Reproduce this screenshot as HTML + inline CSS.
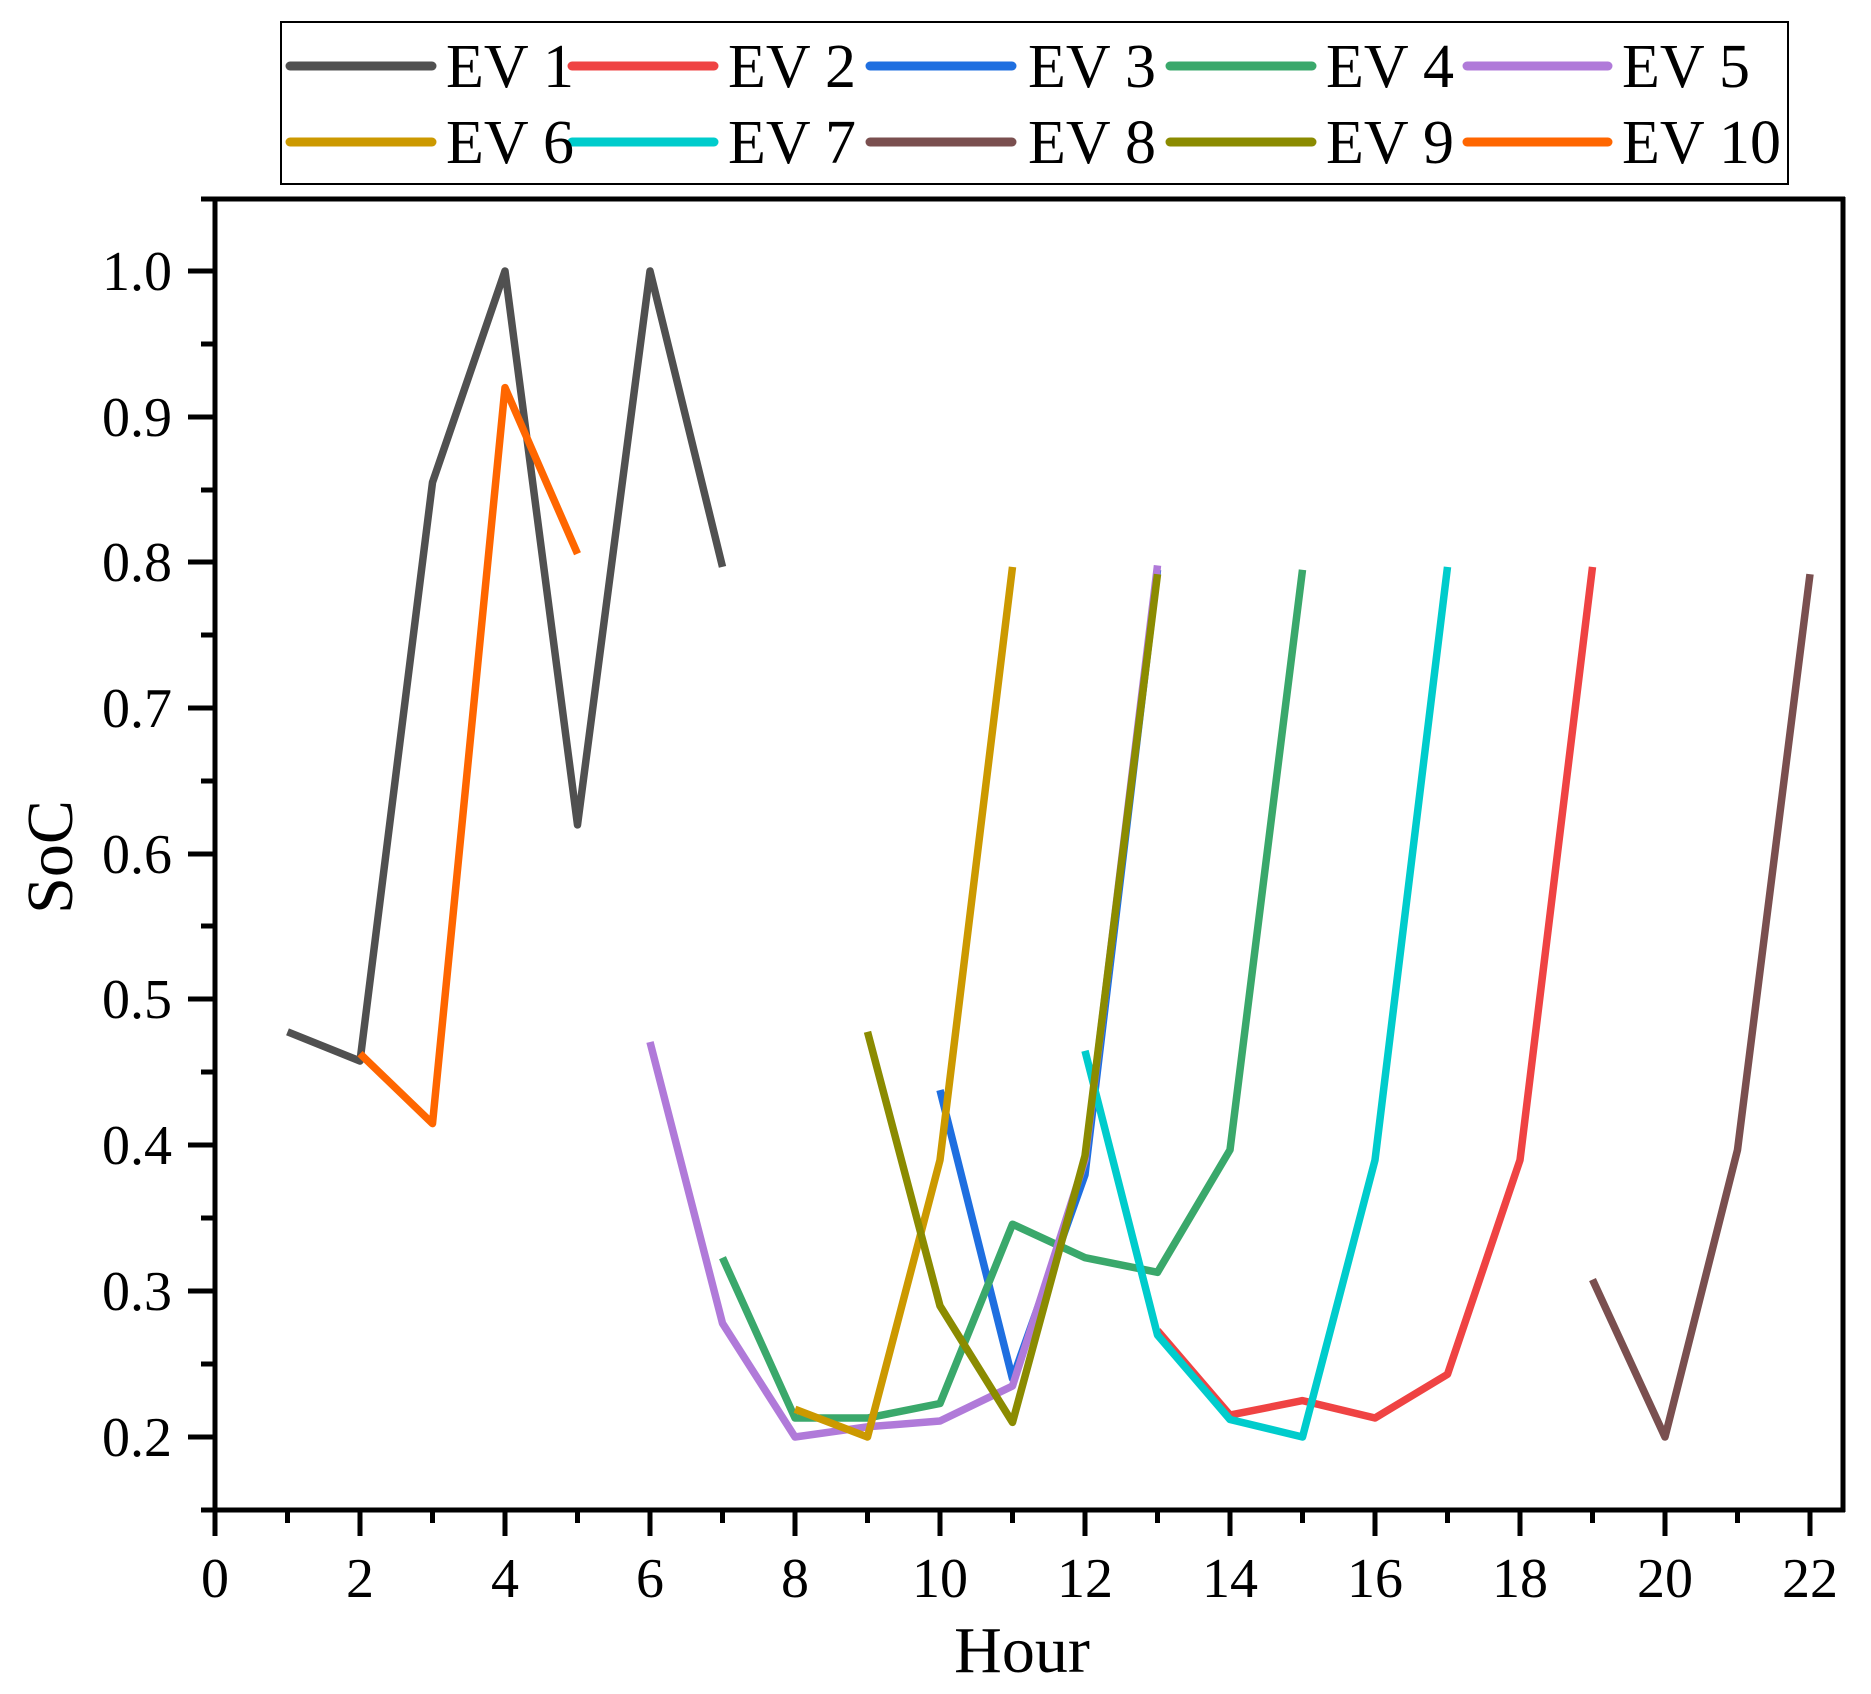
<!DOCTYPE html>
<html><head><meta charset="utf-8"><style>
html,body{margin:0;padding:0;background:#fff}
svg{display:block}
svg text{font-family:"Liberation Serif","Tinos","Times New Roman",Times,serif;fill:#000}
</style></head><body>
<svg width="1871" height="1694" viewBox="0 0 1871 1694" xmlns="http://www.w3.org/2000/svg">
<rect width="1871" height="1694" fill="#fff"/>
<g fill="none" stroke-width="7.5" stroke-linejoin="round" stroke-linecap="butt">
<polyline stroke="#505050" points="287.5,1031.8 360,1061 432.5,482.4 505,271 577.5,824.9 650,271 722.5,566.9"/>
<polyline stroke="#ef4343" points="1157.5,1330.6 1230,1415.1 1302.5,1400.6 1375,1418 1447.5,1374.3 1520,1160.1 1592.5,566.9"/>
<polyline stroke="#1f6fe0" points="940,1090.1 1012.5,1378.7 1085,1174.7 1157.5,569.8"/>
<polyline stroke="#3aa86b" points="722.5,1257.7 795,1418 867.5,1418 940,1403.5 1012.5,1224.2 1085,1257.7 1157.5,1272.3 1230,1149.9 1302.5,569.8"/>
<polyline stroke="#b07ad9" points="650,1042 722.5,1323.3 795,1437 867.5,1426.8 940,1421 1012.5,1386 1085,1160.1 1157.5,565.4"/>
<polyline stroke="#cc9900" points="795,1409.3 867.5,1437 940,1160.1 1012.5,566.9"/>
<polyline stroke="#00cccc" points="1085,1050.8 1157.5,1335 1230,1419.5 1302.5,1437 1375,1160.1 1447.5,566.9"/>
<polyline stroke="#7a4f4f" points="1592.5,1279.6 1665,1437 1737.5,1149.9 1810,574.2"/>
<polyline stroke="#8b8b00" points="867.5,1031.8 940,1305.9 1012.5,1422.4 1085,1155.7 1157.5,574.2"/>
<polyline stroke="#ff6600" points="360,1053.7 432.5,1123.6 505,387.6 577.5,553.8"/>
</g>
<g stroke="#000" stroke-width="5" fill="none">
<line x1="201" y1="199" x2="1845" y2="199"/>
<line x1="201" y1="1510" x2="1845" y2="1510"/>
<line x1="215" y1="197" x2="215" y2="1536"/>
<line x1="1843" y1="197" x2="1843" y2="1512"/>
<line x1="188" y1="271" x2="215" y2="271"/><line x1="188" y1="417" x2="215" y2="417"/>
<line x1="188" y1="562" x2="215" y2="562"/><line x1="188" y1="708" x2="215" y2="708"/>
<line x1="188" y1="854" x2="215" y2="854"/><line x1="188" y1="999" x2="215" y2="999"/>
<line x1="188" y1="1145" x2="215" y2="1145"/><line x1="188" y1="1291" x2="215" y2="1291"/>
<line x1="188" y1="1437" x2="215" y2="1437"/>
<line x1="201" y1="344" x2="215" y2="344"/><line x1="201" y1="490" x2="215" y2="490"/>
<line x1="201" y1="635" x2="215" y2="635"/><line x1="201" y1="781" x2="215" y2="781"/>
<line x1="201" y1="926" x2="215" y2="926"/><line x1="201" y1="1072" x2="215" y2="1072"/>
<line x1="201" y1="1218" x2="215" y2="1218"/><line x1="201" y1="1364" x2="215" y2="1364"/>
<line x1="360" y1="1510" x2="360" y2="1536"/><line x1="505" y1="1510" x2="505" y2="1536"/>
<line x1="650" y1="1510" x2="650" y2="1536"/><line x1="795" y1="1510" x2="795" y2="1536"/>
<line x1="940" y1="1510" x2="940" y2="1536"/><line x1="1085" y1="1510" x2="1085" y2="1536"/>
<line x1="1230" y1="1510" x2="1230" y2="1536"/><line x1="1375" y1="1510" x2="1375" y2="1536"/>
<line x1="1520" y1="1510" x2="1520" y2="1536"/><line x1="1665" y1="1510" x2="1665" y2="1536"/>
<line x1="1810" y1="1510" x2="1810" y2="1536"/>
<line x1="287.5" y1="1510" x2="287.5" y2="1523"/><line x1="432.5" y1="1510" x2="432.5" y2="1523"/>
<line x1="577.5" y1="1510" x2="577.5" y2="1523"/><line x1="722.5" y1="1510" x2="722.5" y2="1523"/>
<line x1="867.5" y1="1510" x2="867.5" y2="1523"/><line x1="1012.5" y1="1510" x2="1012.5" y2="1523"/>
<line x1="1157.5" y1="1510" x2="1157.5" y2="1523"/><line x1="1302.5" y1="1510" x2="1302.5" y2="1523"/>
<line x1="1447.5" y1="1510" x2="1447.5" y2="1523"/><line x1="1592.5" y1="1510" x2="1592.5" y2="1523"/>
<line x1="1737.5" y1="1510" x2="1737.5" y2="1523"/>
</g>
<g font-size="56" text-anchor="end">
<text x="172" y="290">1.0</text><text x="172" y="436">0.9</text><text x="172" y="581">0.8</text>
<text x="172" y="727">0.7</text><text x="172" y="873">0.6</text><text x="172" y="1018">0.5</text>
<text x="172" y="1164">0.4</text><text x="172" y="1310">0.3</text><text x="172" y="1456">0.2</text>
</g>
<g font-size="56" text-anchor="middle">
<text x="215" y="1597">0</text><text x="360" y="1597">2</text><text x="505" y="1597">4</text>
<text x="650" y="1597">6</text><text x="795" y="1597">8</text><text x="940" y="1597">10</text>
<text x="1085" y="1597">12</text><text x="1230" y="1597">14</text><text x="1375" y="1597">16</text>
<text x="1520" y="1597">18</text><text x="1665" y="1597">20</text><text x="1810" y="1597">22</text>
</g>
<text x="1022" y="1672" font-size="66" text-anchor="middle">Hour</text>
<text transform="translate(72,857) rotate(-90)" font-size="66" text-anchor="middle">SoC</text>
<rect x="281" y="22" width="1507" height="162" fill="#fff" stroke="#000" stroke-width="2"/>
<g stroke-width="9" stroke-linecap="round">
<line x1="290" y1="66" x2="432" y2="66" stroke="#505050"/>
<line x1="572" y1="66" x2="714" y2="66" stroke="#ef4343"/>
<line x1="870" y1="66" x2="1012" y2="66" stroke="#1f6fe0"/>
<line x1="1170" y1="66" x2="1312" y2="66" stroke="#3aa86b"/>
<line x1="1467" y1="66" x2="1608" y2="66" stroke="#b07ad9"/>
<line x1="290" y1="142" x2="432" y2="142" stroke="#cc9900"/>
<line x1="572" y1="142" x2="714" y2="142" stroke="#00cccc"/>
<line x1="870" y1="142" x2="1012" y2="142" stroke="#7a4f4f"/>
<line x1="1170" y1="142" x2="1312" y2="142" stroke="#8b8b00"/>
<line x1="1467" y1="142" x2="1608" y2="142" stroke="#ff6600"/>
</g>
<g font-size="62">
<text x="446" y="87">EV 1</text><text x="728" y="87">EV 2</text><text x="1028" y="87">EV 3</text>
<text x="1326" y="87">EV 4</text><text x="1622" y="87">EV 5</text>
<text x="446" y="163">EV 6</text><text x="728" y="163">EV 7</text><text x="1028" y="163">EV 8</text>
<text x="1326" y="163">EV 9</text><text x="1622" y="163">EV 10</text>
</g>
</svg>
</body></html>
